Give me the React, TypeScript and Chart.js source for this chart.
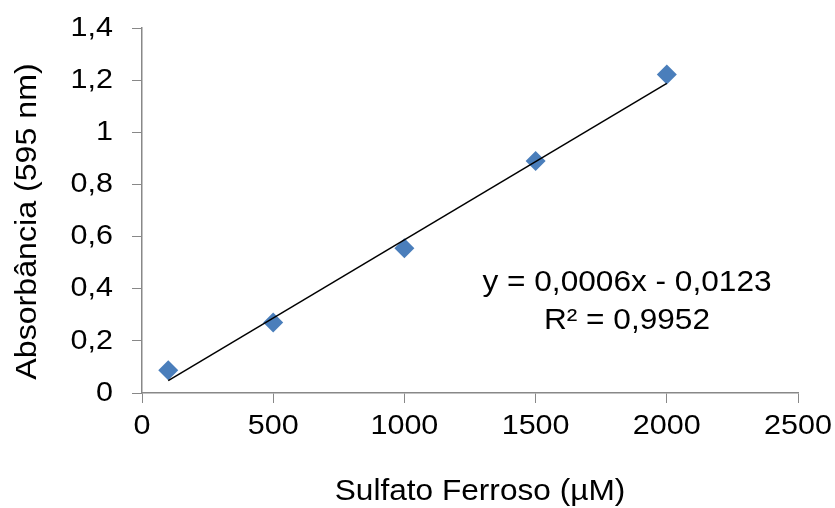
import React, { useEffect, useRef } from "react";
import { Chart, registerables } from "chart.js";

Chart.register(...registerables);

const concentrations = [100, 500, 1000, 1500, 2000];
const absorbance = [0.087, 0.27, 0.555, 0.89, 1.222];
const trendX = [100, 2000];
const trendY = [0.0477, 1.1877];
const xTickLabels = ["0", "500", "1000", "1500", "2000", "2500"];
const yTickLabels = ["0", "0,2", "0,4", "0,6", "0,8", "1", "1,2", "1,4"];
const equationLines = ["y = 0,0006x - 0,0123", "R² = 0,9952"];
const xTitle = "Sulfato Ferroso (µM)";
const yTitle = "Absorbância (595 nm)";

const FONT = "'Liberation Sans', Arial, sans-serif";
const TICK_FS = 28;
const STRETCH = 1.09;

export default function App() {
  const ref = useRef<HTMLCanvasElement | null>(null);
  useEffect(() => {
    document.body.style.margin = "0";
    const canvas = ref.current;
    if (!canvas) return;
    const c2d = canvas.getContext("2d") as any;
    const origFill = c2d.fillText;
    c2d.fillText = function (t: string, x: number, y: number, mw?: number) {
      this.save();
      this.translate(x, y);
      this.scale(STRETCH, 1);
      if (mw === undefined) origFill.call(this, t, 0, 0);
      else origFill.call(this, t, 0, 0, mw / STRETCH);
      this.restore();
    };
    const textPlugin = {
      id: "texts",
      afterDraw(chart: any) {
        const { ctx } = chart;
        ctx.save();
        ctx.fillStyle = "#000";
        ctx.textAlign = "center";
        ctx.textBaseline = "alphabetic";
        ctx.font = `29px ${FONT}`;
        ctx.fillText(equationLines[0], 627, 291);
        ctx.fillText(equationLines[1], 627, 329);
        ctx.fillText(xTitle, 480, 500);
        ctx.translate(36, 221.5);
        ctx.rotate(-Math.PI / 2);
        ctx.font = `29.5px ${FONT}`;
        ctx.fillText(yTitle, 0, 0);
        ctx.restore();
      },
    };
    const chart = new Chart(canvas, {
      type: "scatter",
      data: {
        datasets: [
          {
            type: "line",
            data: trendX.map((x, i) => ({ x, y: trendY[i] })),
            borderColor: "#000",
            borderWidth: 1.5,
            pointRadius: 0,
            fill: false,
            order: 0,
          },
          {
            data: concentrations.map((x, i) => ({ x, y: absorbance[i] })),
            pointStyle: "rectRot",
            pointRadius: 10,
            backgroundColor: "#4A7EBB",
            borderColor: "#4A7EBB",
            borderWidth: 0,
            order: 1,
          },
        ],
      },
      options: {
        responsive: false,
        animation: false,
        layout: { padding: { top: 28, right: 37, left: 0, bottom: 0 } },
        plugins: { legend: { display: false }, tooltip: { enabled: false } },
        scales: {
          x: {
            type: "linear",
            min: 0,
            max: 2500,
            ticks: {
              stepSize: 500,
              color: "#000",
              font: { family: FONT, size: TICK_FS },
              padding: 6,
              maxRotation: 0,
              autoSkip: false,
              callback: (_v: any, i: number) => xTickLabels[i],
            },
            grid: { drawOnChartArea: false, drawTicks: true, tickLength: 10, color: "#888" },
            border: { color: "#888", width: 1.5 },
            afterFit(scale: any) {
              scale.height = 115;
              scale.paddingLeft = 0;
              scale.paddingRight = 0;
            },
          },
          y: {
            min: 0,
            max: 1.4,
            ticks: {
              stepSize: 0.2,
              color: "#000",
              font: { family: FONT, size: TICK_FS },
              padding: 19,
              callback: (_v: any, i: number) => yTickLabels[i],
            },
            grid: { drawOnChartArea: false, drawTicks: true, tickLength: 10, color: "#888" },
            border: { color: "#888", width: 1.5 },
            afterFit(scale: any) {
              scale.width = 142;
              scale.paddingTop = 0;
              scale.paddingBottom = 0;
            },
          },
        },
      },
      plugins: [textPlugin],
    });
    return () => {
      chart.destroy();
      c2d.fillText = origFill;
    };
  }, []);
  return (
    <div style={{ width: 835, height: 508 }}>
      <canvas ref={ref} width={835} height={508} />
    </div>
  );
}
